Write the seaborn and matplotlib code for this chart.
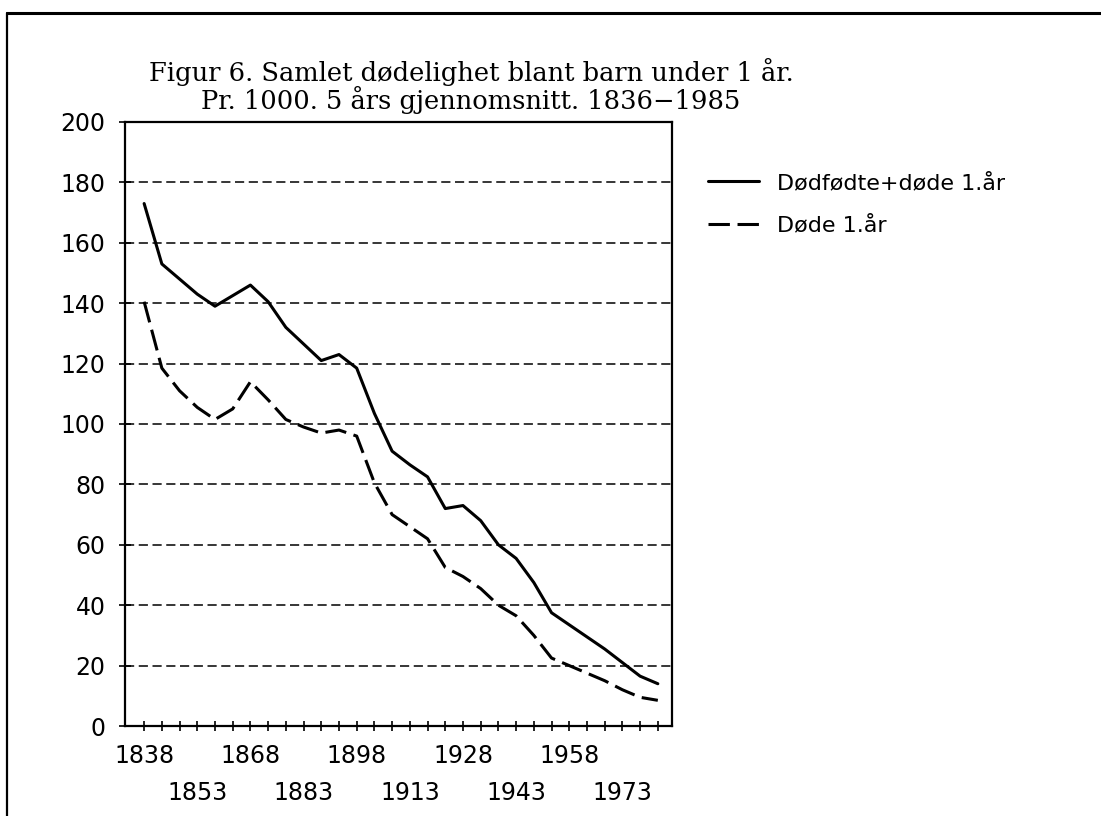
import pandas as pd
import matplotlib.pyplot as plt
import seaborn as sns
from matplotlib.lines import Line2D

years = list(range(1838, 1984, 5))
total = [173, 153, 148, 143, 139, 142.5, 146, 140.5, 132, 126.5,
         121, 123, 118.5, 103.5, 91, 86.5, 82.5, 72, 73, 68,
         60, 55.5, 47.5, 37.5, 33.5, 29.5, 25.5, 21, 16.5, 14]
infant = [140.5, 118.5, 111, 105.5, 101.5, 105, 114, 108, 101.5, 99,
          97, 98, 96, 80.5, 70, 66, 62, 52.5, 49.5, 45.5,
          40, 36.5, 30, 22.5, 20, 17.5, 15, 12, 9.5, 8.5]
labels = ['Dødfødte+døde 1.år', 'Døde 1.år']
row1_years = [1838, 1868, 1898, 1928, 1958]
row2_years = [1853, 1883, 1913, 1943, 1973]

df = pd.DataFrame({'år': years, 'total': total, 'infant': infant})

sns.set_style('ticks')
plt.rcParams['font.family'] = ['DejaVu Sans']
plt.rcParams['text.color'] = 'black'
plt.rcParams['xtick.color'] = 'black'
plt.rcParams['ytick.color'] = 'black'

fig = plt.figure(figsize=(11.01, 8.16), dpi=100)
ax = fig.add_axes([125 / 1101, 1 - 726 / 816, 547 / 1101, 604 / 816])

sns.lineplot(data=df, x='år', y='total', color='black', lw=2.2, ax=ax)
sns.lineplot(data=df, x='år', y='infant', color='black', lw=2.2,
             linestyle=(0, (7, 2.5)), ax=ax)

ax.set_xlim(1832.6, 1987)
ax.set_ylim(0, 200)
ax.set_yticks(range(0, 201, 20))

# major ticks carry the upper row of year labels, minor ticks the lower row
minor_years = [y for y in years if y not in row1_years]
ax.set_xticks(row1_years)
ax.set_xticklabels([str(y) for y in row1_years])
ax.set_xticks(minor_years, minor=True)
ax.set_xticklabels([str(y) if y in row2_years else '' for y in minor_years], minor=True)

ax.set_xlabel('')
ax.set_ylabel('')
ax.tick_params(axis='x', which='major', direction='inout', length=6.5, width=1.2, pad=10,
               labelsize=17, color='black', labelcolor='black')
ax.tick_params(axis='x', which='minor', direction='inout', length=6.5, width=1.2, pad=36.5,
               labelsize=17, color='black', labelcolor='black')
ax.tick_params(axis='y', direction='inout', length=8, width=1.2, pad=10, labelsize=17,
               color='black', labelcolor='black')
ax.yaxis.grid(True, color='black', lw=1.1, linestyle=(0, (6, 3)))
for s in ax.spines.values():
    s.set_visible(True)
    s.set_color('black')
    s.set_linewidth(1.6)

handles = [Line2D([], [], color='black', lw=2.2),
           Line2D([], [], color='black', lw=2.2, linestyle=(0, (7, 2.5)))]
leg = ax.legend(handles, labels, loc='upper left', bbox_to_anchor=(697 / 1101, 1 - 162 / 816),
                bbox_transform=fig.transFigure, frameon=False, fontsize=16,
                handlelength=2.3, handletextpad=0.8, labelspacing=1.0, borderpad=0)
for t in leg.get_texts():
    t.set_color('black')

fig.text(471 / 1101, 1 - 86 / 816,
         'Figur 6. Samlet dødelighet blant barn under 1 år.\nPr. 1000. 5 års gjennomsnitt. 1836−1985',
         ha='center', va='center', fontsize=18.5, family='DejaVu Serif', linespacing=1.0,
         color='black')

fig.add_artist(Line2D([7 / 1101, 7 / 1101], [0, 1 - 13 / 816], transform=fig.transFigure, color='black', lw=1.6))
fig.add_artist(Line2D([7 / 1101, 1], [1 - 13 / 816, 1 - 13 / 816], transform=fig.transFigure, color='black', lw=2.2))

fig.savefig('out.png', dpi=100)
